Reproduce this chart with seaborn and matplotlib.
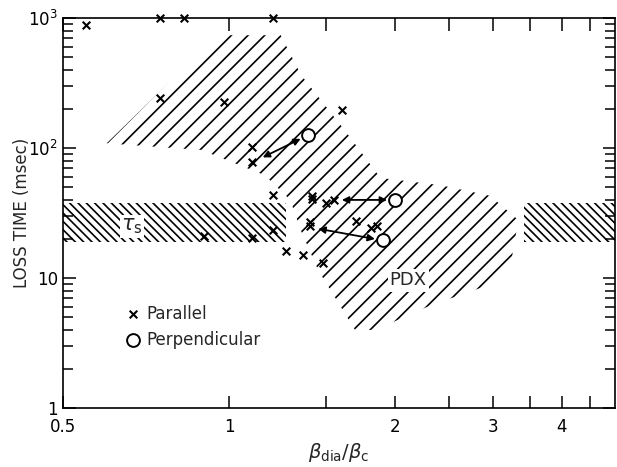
import numpy as np
import pandas as pd
import seaborn as sns
import matplotlib.pyplot as plt
from matplotlib.patches import Polygon
from matplotlib.ticker import LogLocator, FixedLocator, NullFormatter

# parallel measurements (beta ratio, loss time in msec)
par_x = [0.55, 0.75, 0.83, 1.20, 0.75, 0.98, 1.10, 1.10, 1.20, 1.41, 1.41,
         1.50, 1.55, 1.60, 1.40, 1.40, 1.70, 1.81, 1.85, 0.90, 1.10, 1.20,
         1.27, 1.36, 1.48]
par_y = [880, 1000, 1000, 1000, 243, 226, 102, 78, 44, 41, 43,
         38, 40, 196, 27, 25, 27.4, 24.3, 25, 21, 20.4, 23.4,
         16.2, 15, 13.2]

# perpendicular measurements
perp_x = [1.39, 2.00, 1.90]
perp_y = [126, 40, 19.5]

# arrows: perpendicular point -> matching parallel point
arrow_end_x = [1.15, 1.60, 1.45]
arrow_end_y = [85, 40, 24]

# PDX operating region outline
pdx_x = [0.60, 0.955, 1.24, 1.35, 1.62, 1.88, 2.41, 2.97, 3.34, 3.24, 2.94,
         2.32, 1.84, 1.69, 1.45, 1.35, 1.29, 1.16, 0.89]
pdx_y = [109, 740, 740, 365, 137, 59, 52, 43, 28, 13.3, 8.8,
         6.2, 4.0, 4.0, 11.5, 23, 40, 62, 97]

# tau_s band
tau_lo, tau_hi = 19, 38
tau_left = (0.5, 1.27)
tau_right = (3.42, 5.0)

df_par = pd.DataFrame({'beta': par_x, 'loss': par_y})
df_perp = pd.DataFrame({'beta': perp_x, 'loss': perp_y})

sns.set_style('ticks')
plt.rcParams['hatch.linewidth'] = 1.2

fig = plt.figure(figsize=(6.17, 4.67), dpi=100)
ax = fig.add_axes([0.102, 0.126, 0.895, 0.835])
ax.set_xscale('log')
ax.set_yscale('log')
ax.set_xlim(0.5, 5.0)
ax.set_ylim(1, 1000)

# hatched regions
pdx = Polygon(list(zip(pdx_x, pdx_y)), closed=True, facecolor='none',
              edgecolor='black', hatch='//', linewidth=0)
ax.add_patch(pdx)
for x0, x1 in [tau_left, tau_right]:
    ax.fill_between([x0, x1], tau_lo, tau_hi, facecolor='none',
                    edgecolor='black', hatch='\\\\\\\\', linewidth=0)

# arrows
for sx, sy, ex, ey in zip(perp_x, perp_y, arrow_end_x, arrow_end_y):
    ax.annotate('', xy=(ex, ey), xytext=(sx, sy),
                arrowprops=dict(arrowstyle='<|-|>', color='black', lw=1.3,
                                mutation_scale=10, shrinkA=6, shrinkB=0))

sns.scatterplot(data=df_par, x='beta', y='loss', marker='x', color='black',
                s=30, linewidth=1.5, label='Parallel', ax=ax, clip_on=False,
                zorder=5)
sns.scatterplot(data=df_perp, x='beta', y='loss', marker='o', facecolor='white',
                edgecolor='black', s=85, linewidth=1.4, label='Perpendicular',
                ax=ax, zorder=6)

ax.text(0.667, 25, r'$\tau_{\mathrm{s}}$', fontsize=15, ha='center', va='center',
        bbox=dict(facecolor='white', edgecolor='none', pad=1))
ax.text(2.11, 9.6, 'PDX', fontsize=13, ha='center', va='center',
        bbox=dict(facecolor='white', edgecolor='none', pad=1.5))

leg = ax.legend(loc=(0.1, 0.135), frameon=False, fontsize=12, handletextpad=0.3,
                borderaxespad=0, labelspacing=0.5, handlelength=1)

# ticks
ax.xaxis.set_major_locator(FixedLocator([0.5, 1, 1.5, 2, 2.5, 3, 3.5, 4, 4.5]))
ax.set_xticklabels(['0.5', '1', '', '2', '', '3', '', '4', ''])
ax.xaxis.set_minor_locator(FixedLocator([]))
ax.xaxis.set_minor_formatter(NullFormatter())
ax.yaxis.set_major_locator(FixedLocator([1, 10, 100, 1000]))
ax.set_yticklabels(['1', '10', r'$10^2$', r'$10^3$'])
ax.yaxis.set_minor_locator(LogLocator(base=10, subs=np.arange(2, 10)))
ax.yaxis.set_minor_formatter(NullFormatter())
ax.tick_params(which='both', direction='in', top=True, right=True,
               labelsize=12, width=1.1, colors='black')
ax.tick_params(which='major', length=9)
ax.tick_params(which='minor', length=7)
ax.tick_params(axis='x', pad=7)
for sp in ax.spines.values():
    sp.set_linewidth(1.2)
    sp.set_color('black')

ax.set_xlabel(r'$\beta_{\mathrm{dia}}/\beta_{\mathrm{c}}$', fontsize=14, labelpad=4)
ax.set_ylabel('LOSS TIME (msec)', fontsize=12)
ax.yaxis.set_label_coords(-0.058, 0.5)

fig.savefig('out.png', dpi=100)
